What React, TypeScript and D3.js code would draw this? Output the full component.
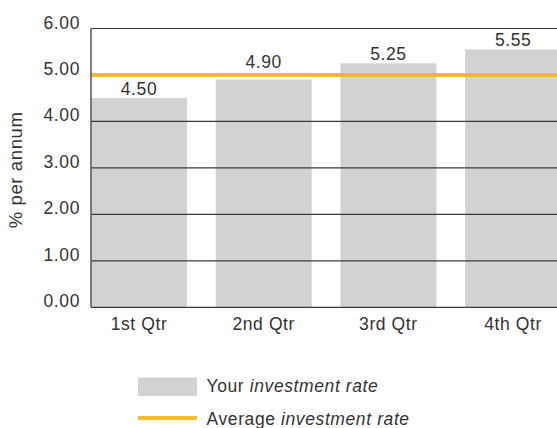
import React from "react";
import * as d3 from "d3";

const categories = ["1st Qtr", "2nd Qtr", "3rd Qtr", "4th Qtr"];
const yourRate = [4.5, 4.9, 5.25, 5.55];
const averageRate = 5.0;
const yTicks = [0, 1, 2, 3, 4, 5, 6];
const legendLabels = ["Your", "investment rate", "Average", "investment rate"];
const yAxisLabel = "% per annum";

const W = 557;
const H = 428;
const M = { left: 91, top: 28.5, bottom: 307.3 };
const step = 124.7;
const FONT = "'Liberation Sans', Arial, sans-serif";
const TXT = "#333";
const GRAY = "#d1d2d4";
const ORANGE = "#fdb92e";
const LS = 0.6;

export default function App() {
  const x = d3
    .scaleBand<string>()
    .domain(categories)
    .range([M.left, M.left + step * 4 - step * 0.23])
    .paddingInner(0.23)
    .paddingOuter(0);
  const y = d3.scaleLinear().domain([0, 6]).range([M.bottom, M.top]);
  const fmt = d3.format(".2f");
  const avgY = y(averageRate);

  const labelY = (v: number) => {
    const base = y(v) - 3.5;
    // keep value labels clear of the average line
    if (base > avgY - 4 && base < avgY + 16) return avgY - 7;
    return base;
  };

  return (
    <svg
      width={W}
      height={H}
      style={{ position: "absolute", left: 0, top: 0, display: "block" }}
      fontFamily={FONT}
      letterSpacing={LS}
    >
      <rect width={W} height={H} fill="#fff" />
      {categories.map((c, i) => (
        <rect
          key={c}
          x={x(c)}
          y={y(yourRate[i])}
          width={x.bandwidth()}
          height={y(0) - y(yourRate[i])}
          fill={GRAY}
        />
      ))}
      {yTicks
        .filter((t) => t !== 0 && t !== averageRate)
        .map((t) => (
          <line key={t} x1={M.left} x2={W} y1={y(t)} y2={y(t)} stroke="#3a3a3a" strokeWidth={1.2} />
        ))}
      <line x1={M.left} x2={W} y1={avgY} y2={avgY} stroke={ORANGE} strokeWidth={4} />
      <line x1={M.left} x2={W} y1={y(0)} y2={y(0)} stroke="#3a3a3a" strokeWidth={1.2} />
      <line x1={M.left} x2={M.left} y1={y(0)} y2={y(6)} stroke="#555" strokeWidth={1.5} />
      {yTicks.map((t) => (
        <text key={t} x={80} y={y(t)} textAnchor="end" fontSize={17.5} fill={TXT}>
          {fmt(t)}
        </text>
      ))}
      {categories.map((c, i) => (
        <g key={c}>
          <text
            x={(x(c) as number) + x.bandwidth() / 2}
            y={labelY(yourRate[i])}
            textAnchor="middle"
            fontSize={17.5}
            fill={TXT}
          >
            {fmt(yourRate[i])}
          </text>
          <text
            x={(x(c) as number) + x.bandwidth() / 2}
            y={330}
            textAnchor="middle"
            fontSize={17.5}
            fill={TXT}
          >
            {c}
          </text>
        </g>
      ))}
      <text
        transform={`translate(22,${(M.top + M.bottom) / 2 + 2}) rotate(-90)`}
        textAnchor="middle"
        fontSize={18.5}
        fill={TXT}
      >
        {yAxisLabel}
      </text>
      <rect x={138} y={377.5} width={59} height={18.5} fill={GRAY} />
      <text x={206.5} y={391.5} fontSize={17.5} fill={TXT}>
        {legendLabels[0]} <tspan fontStyle="italic">{legendLabels[1]}</tspan>
      </text>
      <line x1={138} x2={197} y1={418} y2={418} stroke={ORANGE} strokeWidth={4} />
      <text x={206.5} y={425} fontSize={17.5} fill={TXT}>
        {legendLabels[2]} <tspan fontStyle="italic">{legendLabels[3]}</tspan>
      </text>
    </svg>
  );
}
